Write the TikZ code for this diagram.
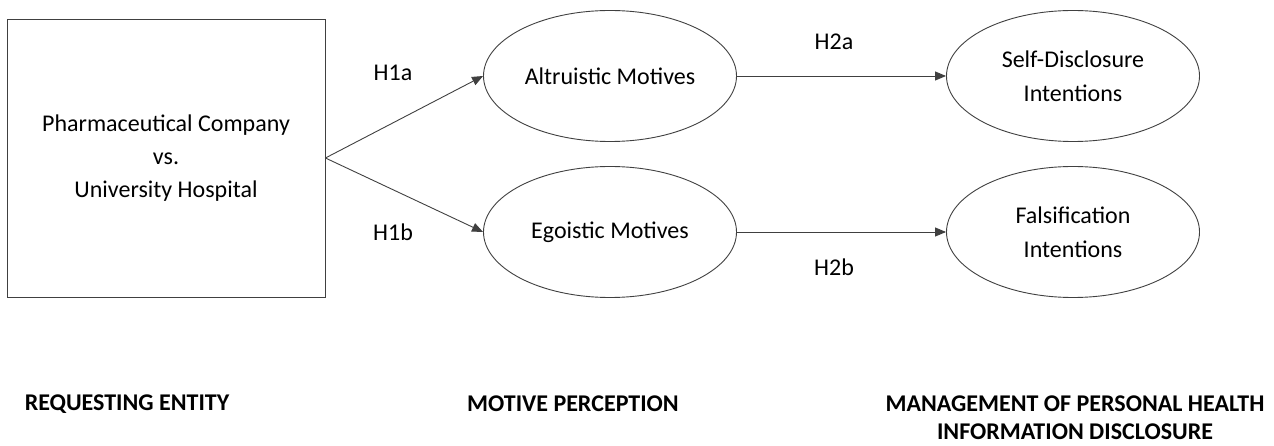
\documentclass[tikz,border=0pt]{standalone}
\usepackage{fontspec}
\setmainfont{Carlito}
\usetikzlibrary{arrows.meta,shapes.geometric}
\begin{document}
\begin{tikzpicture}[x=1pt,y=-1pt,
  line/.style={draw=black!75,line width=0.9pt},
  arr/.style={line,-{Triangle[length=11pt,width=9pt]}},
  oval/.style={ellipse,line,minimum width=253pt,minimum height=131pt,inner sep=0pt,align=center,font=\fontsize{24}{34}\selectfont},
  lbl/.style={font=\fontsize{24}{28}\selectfont},
  cat/.style={font=\bfseries\fontsize{24}{28}\selectfont,align=center}]
\useasboundingbox (0,0) rectangle (1274,446);
\node[line,rectangle,minimum width=318pt,minimum height=278pt,inner sep=0pt,align=center,font=\fontsize{24}{33}\selectfont] (ent) at (166,158) {Pharmaceutical Company\\vs.\\University Hospital};
\node[oval] (alt) at (610,76) {Altruistic Motives};
\node[oval] (ego) at (610,232) {Egoistic Motives};
\node[oval] (sdi) at (1073,76) {Self-Disclosure\\Intentions};
\node[oval] (fal) at (1073,232) {Falsification\\Intentions};
\draw[arr] (ent.east) -- (alt.west);
\draw[arr] (ent.east) -- (ego.west);
\draw[arr] (alt.east) -- (sdi.west);
\draw[arr] (ego.east) -- (fal.west);
\node[lbl] (h1a) at (393,73) {H1a};
\node[lbl] (h1b) at (393,232) {H1b};
\node[lbl] (h2a) at (834,42) {H2a};
\node[lbl] (h2b) at (834,267) {H2b};
\node[cat] (c1) at (127,404) {REQUESTING ENTITY};
\node[cat] (c2) at (573,404) {MOTIVE PERCEPTION};
\node[cat] (c3) at (1075,418) {MANAGEMENT OF PERSONAL HEALTH\\INFORMATION DISCLOSURE};
\end{tikzpicture}
\end{document}
